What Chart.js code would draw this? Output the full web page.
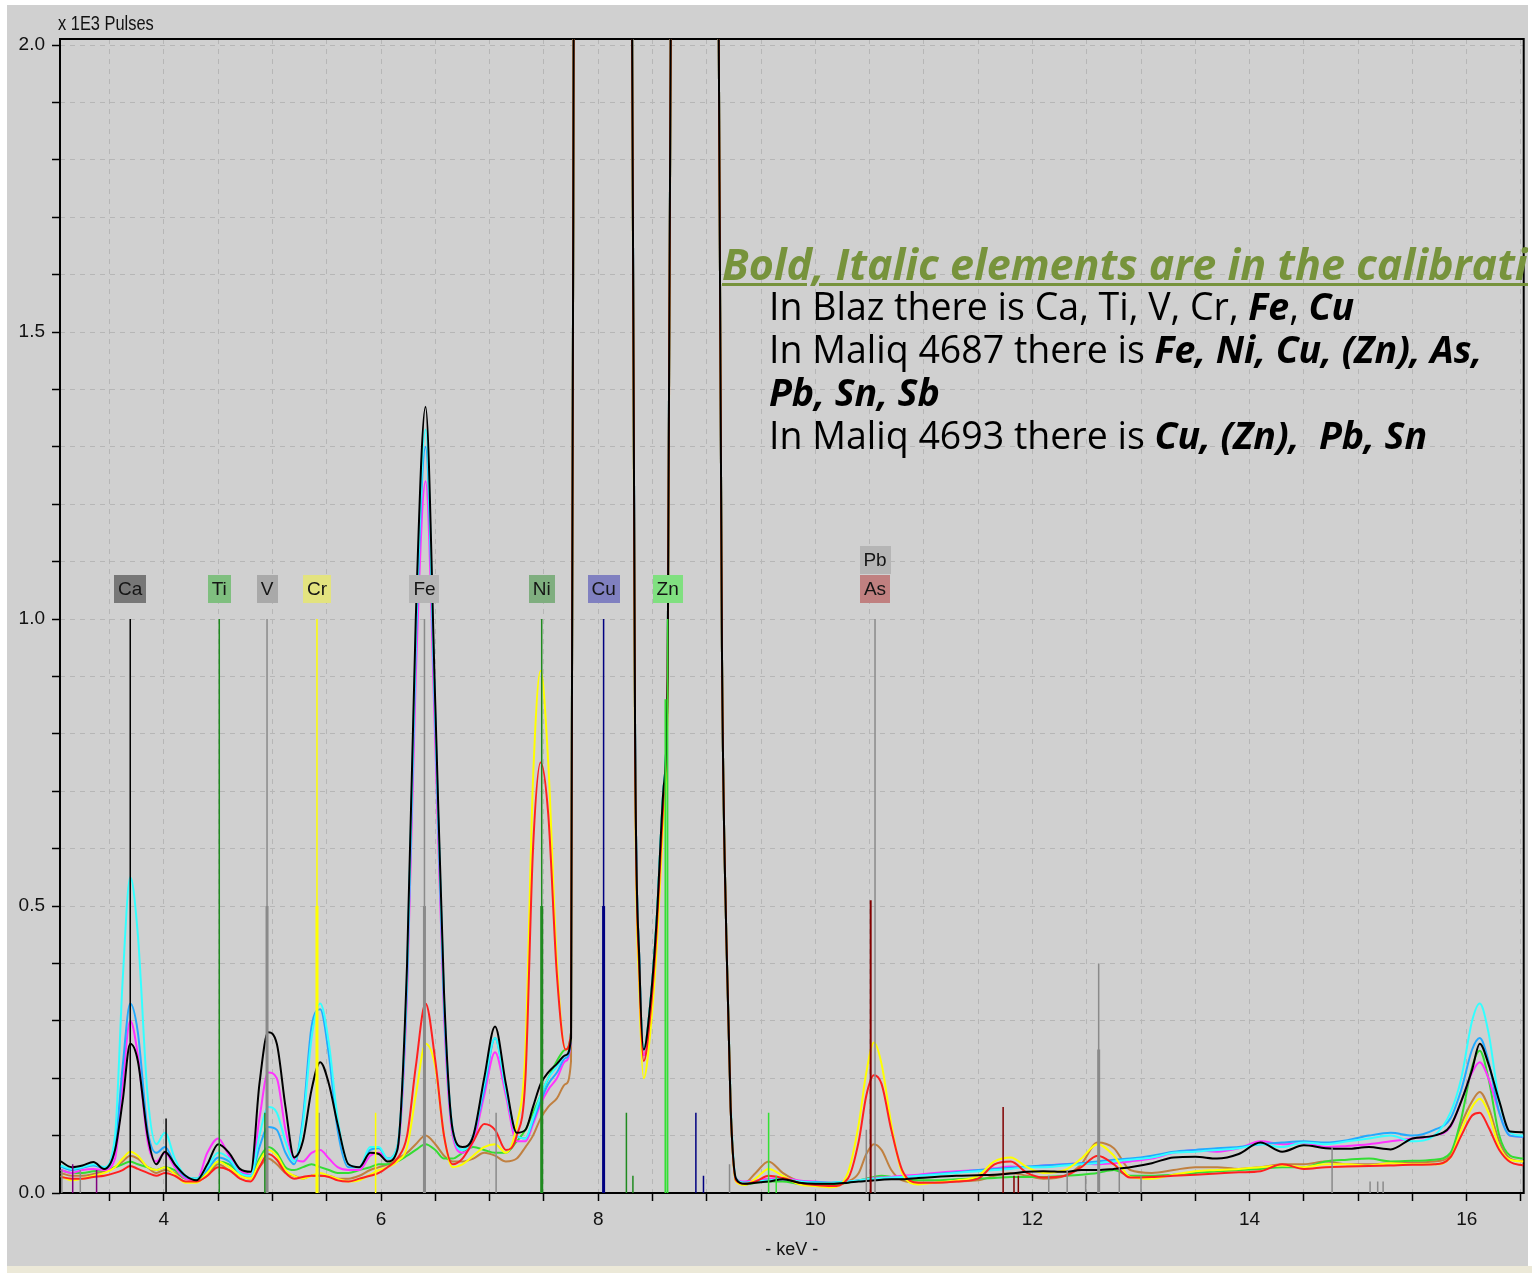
<!doctype html>
<html lang="en">
<head>
    <meta charset="utf-8">
    <title>XRF spectra - keV</title>
    <script src="https://cdn.jsdelivr.net/npm/chart.js"></script>
    <style>
        html, body { margin: 0; padding: 0; background: #ffffff; }
        body { width: 1532px; height: 1273px; position: relative; overflow: hidden; }
        .panel { position: absolute; left: 7px; top: 5px; width: 1521px; height: 1261px; background: #d0d0d0; overflow: hidden; }
        .strip { position: absolute; left: 7px; top: 1266px; width: 1525px; height: 7px; background: #ece9d8; }
        #spectrum { position: absolute; left: 0; top: 0; }
        .ytitle { position: absolute; left: 51px; top: 8px; font: 20px/20px 'Liberation Sans', sans-serif; color: #111; white-space: nowrap;
            transform: scaleX(0.82); transform-origin: left top; }
        .note-title { position: absolute; left: 715px; top: 237px; font: italic 700 43px/43px 'Open Sans', sans-serif; color: #77933c;
            text-decoration: underline; text-decoration-thickness: 3px; text-underline-offset: 3px; white-space: nowrap; }
        .note-body { position: absolute; left: 762px; top: 279px; font: 400 37.5px/43px 'Open Sans', sans-serif; color: #000; white-space: pre; }
        .note-body b { font-weight: 700; }
    </style>
</head>
<body>
    <div class="panel">
        <canvas id="spectrum" width="1521" height="1261"></canvas>
        <div class="ytitle">x 1E3 Pulses</div>
        <div class="note-title">Bold, Italic elements are in the calibration</div>
        <div class="note-body"><div>In Blaz there is Ca, Ti, V, Cr, <b><i>Fe</i></b>, <b><i>Cu</i></b></div><div>In Maliq 4687 there is <b><i>Fe, Ni, Cu, (Zn), As,</i></b></div><div><b><i>Pb, Sn, Sb</i></b></div><div>In Maliq 4693 there is <b><i>Cu, (Zn),  Pb, Sn</i></b></div></div>
    </div>
    <div class="strip"></div>

    <script>
        // energy axis shared by all spectra (keV)
        const energyKeV = [
            3.05, 3.15, 3.25, 3.35, 3.45, 3.55, 3.62, 3.69, 3.76, 3.85,
            3.93, 4.01, 4.10, 4.20, 4.30, 4.40, 4.50, 4.60, 4.70, 4.80,
            4.88, 4.96, 5.04, 5.12, 5.20, 5.28, 5.36, 5.44, 5.52, 5.60,
            5.70, 5.80, 5.90, 5.98, 6.06, 6.15, 6.24, 6.32, 6.41, 6.50,
            6.58, 6.66, 6.75, 6.85, 6.95, 7.05, 7.15, 7.25, 7.33, 7.40,
            7.47, 7.54, 7.62, 7.70, 7.75, 7.78, 8.04, 8.30, 8.34, 8.38,
            8.42, 8.48, 8.54, 8.60, 8.64, 8.68, 8.90, 9.10, 9.14, 9.18,
            9.22, 9.27, 9.35, 9.45, 9.57, 9.70, 9.85, 10.00, 10.15, 10.30,
            10.40, 10.47, 10.54, 10.61, 10.70, 10.80, 10.95, 11.10, 11.30, 11.50,
            11.65, 11.80, 11.95, 12.10, 12.30, 12.45, 12.60, 12.75, 12.90, 13.10,
            13.30, 13.50, 13.70, 13.90, 14.10, 14.30, 14.50, 14.70, 14.90, 15.10,
            15.30, 15.50, 15.70, 15.85, 15.95, 16.05, 16.12, 16.20, 16.30, 16.40,
            16.52
        ];

        // counts, x 1E3 pulses (Cu peaks run far off the top)
        const blackSpectrum = [
            0.055, 0.045, 0.048, 0.054, 0.042, 0.075, 0.16, 0.26, 0.23, 0.1,
            0.05, 0.072, 0.05, 0.03, 0.022, 0.05, 0.085, 0.07, 0.042, 0.037,
            0.19, 0.28, 0.26, 0.15, 0.062, 0.09, 0.18, 0.228, 0.19, 0.12,
            0.05, 0.045, 0.07, 0.068, 0.055, 0.075, 0.4, 1.0, 1.37, 0.85,
            0.35, 0.11, 0.08, 0.1, 0.2, 0.29, 0.19, 0.105, 0.11, 0.15,
            0.19, 0.21, 0.225, 0.24, 0.27, 2.6, 25, 2.6, 0.8, 0.4,
            0.25, 0.33, 0.48, 0.7, 0.9, 2.6, 14, 2.4, 0.95, 0.45,
            0.15, 0.025, 0.016, 0.018, 0.02, 0.024, 0.018, 0.016, 0.016, 0.018,
            0.02, 0.021, 0.022, 0.023, 0.024, 0.024, 0.026, 0.028, 0.03, 0.031,
            0.032, 0.034, 0.037, 0.038, 0.037, 0.04, 0.04, 0.042, 0.045, 0.052,
            0.062, 0.063, 0.06, 0.068, 0.088, 0.072, 0.083, 0.078, 0.077, 0.08,
            0.076, 0.095, 0.1, 0.117, 0.16, 0.215, 0.26, 0.225, 0.16, 0.107,
            0.106
        ];
        const cyanSpectrum = [
            0.048, 0.042, 0.045, 0.05, 0.045, 0.1, 0.37, 0.55, 0.45, 0.17,
            0.085, 0.105, 0.06, 0.03, 0.025, 0.045, 0.07, 0.06, 0.035, 0.03,
            0.1, 0.15, 0.14, 0.09, 0.055, 0.12, 0.27, 0.33, 0.26, 0.13,
            0.05, 0.045, 0.08, 0.08, 0.06, 0.08, 0.38, 0.97, 1.33, 0.83,
            0.34, 0.11, 0.075, 0.1, 0.19, 0.27, 0.18, 0.1, 0.095, 0.13,
            0.17, 0.2, 0.22, 0.24, 0.28, 2.6, 25, 2.6, 0.8, 0.4,
            0.25, 0.33, 0.48, 0.7, 0.9, 2.6, 14, 2.4, 0.95, 0.45,
            0.16, 0.025, 0.018, 0.02, 0.022, 0.025, 0.02, 0.018, 0.018, 0.02,
            0.022, 0.024, 0.025, 0.026, 0.027, 0.028, 0.03, 0.032, 0.035, 0.038,
            0.04, 0.042, 0.045, 0.045, 0.048, 0.05, 0.052, 0.055, 0.058, 0.062,
            0.07, 0.072, 0.075, 0.078, 0.085, 0.08, 0.088, 0.085, 0.09, 0.095,
            0.1, 0.09, 0.1, 0.14, 0.2, 0.3, 0.33, 0.28, 0.16, 0.105,
            0.1
        ];
        const skyBlueSpectrum = [
            0.046, 0.04, 0.044, 0.048, 0.043, 0.08, 0.22, 0.33, 0.28, 0.11,
            0.07, 0.08, 0.05, 0.028, 0.025, 0.04, 0.062, 0.055, 0.035, 0.03,
            0.08, 0.115, 0.11, 0.07, 0.05, 0.13, 0.29, 0.32, 0.24, 0.11,
            0.045, 0.045, 0.075, 0.078, 0.06, 0.08, 0.37, 0.95, 1.3, 0.82,
            0.33, 0.11, 0.075, 0.1, 0.18, 0.27, 0.18, 0.1, 0.095, 0.125,
            0.16, 0.19, 0.21, 0.235, 0.27, 2.6, 25, 2.6, 0.8, 0.4,
            0.25, 0.33, 0.48, 0.7, 0.9, 2.6, 14, 2.4, 0.95, 0.45,
            0.15, 0.024, 0.018, 0.02, 0.022, 0.024, 0.02, 0.019, 0.018, 0.02,
            0.022, 0.023, 0.024, 0.025, 0.026, 0.027, 0.03, 0.033, 0.036, 0.04,
            0.042, 0.044, 0.046, 0.048, 0.05, 0.052, 0.055, 0.058, 0.06, 0.065,
            0.072, 0.075, 0.078, 0.08, 0.085, 0.088, 0.09, 0.088, 0.092, 0.1,
            0.105, 0.1, 0.11, 0.13, 0.18, 0.25, 0.27, 0.23, 0.14, 0.1,
            0.098
        ];
        const magentaSpectrum = [
            0.04, 0.035, 0.04, 0.042, 0.04, 0.06, 0.19, 0.3, 0.24, 0.09,
            0.055, 0.07, 0.045, 0.025, 0.022, 0.07, 0.095, 0.065, 0.04, 0.032,
            0.13, 0.21, 0.2, 0.11, 0.06, 0.055, 0.07, 0.075, 0.06, 0.045,
            0.04, 0.04, 0.065, 0.07, 0.06, 0.075, 0.35, 0.9, 1.24, 0.78,
            0.31, 0.1, 0.07, 0.09, 0.17, 0.245, 0.17, 0.09, 0.09, 0.12,
            0.155, 0.18, 0.2, 0.23, 0.27, 2.6, 25, 2.6, 0.8, 0.4,
            0.24, 0.32, 0.47, 0.68, 0.88, 2.6, 14, 2.4, 0.95, 0.45,
            0.15, 0.025, 0.02, 0.022, 0.025, 0.026, 0.022, 0.02, 0.018, 0.02,
            0.022, 0.024, 0.026, 0.027, 0.028, 0.03, 0.032, 0.035, 0.038, 0.04,
            0.043, 0.046, 0.045, 0.048, 0.05, 0.052, 0.05, 0.052, 0.055, 0.06,
            0.07, 0.075, 0.072, 0.078, 0.09, 0.085, 0.087, 0.08, 0.082, 0.085,
            0.09, 0.095, 0.1, 0.115, 0.16, 0.21, 0.228, 0.2, 0.14, 0.1,
            0.098
        ];
        const yellowSpectrum = [
            0.03, 0.022, 0.025, 0.03, 0.035, 0.045, 0.06, 0.072, 0.065, 0.045,
            0.04, 0.045, 0.033, 0.018, 0.018, 0.035, 0.055, 0.045, 0.03, 0.025,
            0.055, 0.075, 0.065, 0.04, 0.03, 0.025, 0.03, 0.035, 0.03, 0.025,
            0.02, 0.022, 0.032, 0.04, 0.045, 0.055, 0.08, 0.17, 0.26, 0.22,
            0.1, 0.045, 0.05, 0.065, 0.08, 0.085, 0.07, 0.12, 0.25, 0.72,
            0.91, 0.75, 0.4, 0.25, 0.27, 2.6, 25, 2.6, 0.75, 0.35,
            0.2, 0.28, 0.43, 0.65, 0.87, 2.6, 14, 2.4, 0.95, 0.45,
            0.15, 0.02, 0.014, 0.025, 0.042, 0.03, 0.015, 0.012, 0.01, 0.035,
            0.12, 0.21, 0.262, 0.225, 0.12, 0.035, 0.015, 0.018, 0.022, 0.03,
            0.055, 0.062, 0.045, 0.035, 0.04, 0.06, 0.085, 0.065, 0.028, 0.025,
            0.032, 0.038, 0.04, 0.042, 0.045, 0.048, 0.045, 0.05, 0.05, 0.048,
            0.052, 0.05, 0.05, 0.062, 0.11, 0.15, 0.164, 0.14, 0.08, 0.058,
            0.055
        ];
        const redSpectrum = [
            0.028, 0.025, 0.025, 0.028, 0.03, 0.035, 0.04, 0.047, 0.042, 0.035,
            0.03, 0.035, 0.03, 0.02, 0.02, 0.03, 0.045, 0.04, 0.025, 0.02,
            0.045, 0.068, 0.058, 0.035, 0.025, 0.028, 0.03, 0.03, 0.028, 0.022,
            0.02, 0.025, 0.03, 0.035, 0.045, 0.06, 0.1, 0.22, 0.33, 0.23,
            0.1, 0.05, 0.06, 0.09, 0.12, 0.11, 0.075, 0.1, 0.2, 0.6,
            0.75, 0.66, 0.38, 0.25, 0.28, 2.6, 25, 2.6, 0.78, 0.38,
            0.23, 0.31, 0.46, 0.68, 0.9, 2.6, 14, 2.4, 0.95, 0.45,
            0.15, 0.022, 0.016, 0.02, 0.03, 0.026, 0.018, 0.014, 0.012, 0.025,
            0.09, 0.17, 0.205, 0.19, 0.11, 0.04, 0.018, 0.018, 0.02, 0.025,
            0.05, 0.055, 0.035, 0.027, 0.03, 0.045, 0.065, 0.05, 0.027, 0.028,
            0.03, 0.032, 0.034, 0.036, 0.038, 0.05, 0.042, 0.045, 0.046, 0.047,
            0.048, 0.049, 0.05, 0.062, 0.1, 0.135, 0.14, 0.115, 0.075, 0.054,
            0.048
        ];
        const greenSpectrum = [
            0.04, 0.035, 0.035, 0.038, 0.04, 0.045, 0.05, 0.055, 0.05, 0.045,
            0.04, 0.045, 0.04, 0.025, 0.025, 0.035, 0.055, 0.05, 0.035, 0.03,
            0.06, 0.08, 0.07, 0.045, 0.04, 0.045, 0.05, 0.045, 0.04, 0.035,
            0.035, 0.04, 0.045, 0.05, 0.05, 0.055, 0.065, 0.075, 0.085, 0.075,
            0.06, 0.06, 0.07, 0.08, 0.075, 0.07, 0.07, 0.09, 0.11, 0.14,
            0.17, 0.2, 0.23, 0.25, 0.28, 2.6, 25, 2.6, 0.8, 0.4,
            0.25, 0.33, 0.48, 0.7, 0.9, 2.6, 14, 2.4, 0.95, 0.45,
            0.15, 0.022, 0.015, 0.018, 0.02, 0.02, 0.016, 0.015, 0.015, 0.018,
            0.022, 0.025, 0.028, 0.03, 0.028, 0.025, 0.022, 0.022, 0.024, 0.025,
            0.026, 0.028, 0.028, 0.028, 0.03, 0.032, 0.035, 0.04, 0.03, 0.03,
            0.032, 0.035, 0.038, 0.04, 0.042, 0.045, 0.045, 0.055, 0.058, 0.06,
            0.055, 0.056, 0.058, 0.07, 0.13, 0.22, 0.248, 0.2, 0.1, 0.065,
            0.06
        ];
        const brownSpectrum = [
            0.035, 0.03, 0.03, 0.033, 0.038, 0.045, 0.055, 0.065, 0.06, 0.045,
            0.035, 0.04, 0.035, 0.025, 0.022, 0.03, 0.05, 0.04, 0.03, 0.025,
            0.045, 0.06, 0.05, 0.035, 0.03, 0.025, 0.03, 0.03, 0.03, 0.025,
            0.025, 0.03, 0.04, 0.045, 0.05, 0.06, 0.07, 0.085, 0.1, 0.085,
            0.065, 0.055, 0.055, 0.06, 0.07, 0.065, 0.055, 0.06, 0.08, 0.1,
            0.13, 0.15, 0.165, 0.19, 0.23, 2.6, 25, 2.6, 0.8, 0.4,
            0.24, 0.32, 0.47, 0.68, 0.88, 2.6, 14, 2.4, 0.95, 0.45,
            0.15, 0.022, 0.018, 0.035, 0.055, 0.035, 0.02, 0.015, 0.014, 0.02,
            0.035, 0.068, 0.085, 0.075, 0.04, 0.022, 0.018, 0.018, 0.02, 0.022,
            0.03, 0.035, 0.03, 0.025, 0.03, 0.05, 0.088, 0.078, 0.04, 0.035,
            0.04, 0.045, 0.045, 0.042, 0.045, 0.05, 0.05, 0.055, 0.05, 0.05,
            0.052, 0.053, 0.055, 0.065, 0.12, 0.16, 0.176, 0.15, 0.09, 0.06,
            0.055
        ];

        // element line markers: energy (keV) and stick height
        const markerKeV = [
            3.06, 3.16, 3.23, 3.38, 3.69, 4.02, 4.51, 4.93, 4.95, 4.95,
            5.41, 5.41, 5.43, 5.95, 6.40, 6.40, 7.06, 7.48, 7.48, 8.05,
            8.05, 8.26, 8.32, 8.64, 8.62, 8.90, 8.97, 9.21, 9.57, 9.64,
            10.47, 10.51, 10.55, 11.73, 11.83, 11.87, 12.15, 12.32, 12.49, 12.61,
            12.61, 12.80, 13.00, 14.76, 15.11, 15.18, 15.23
        ];
        const markerTop = [
            0.04, 0.05, 0.04, 0.04, 1.0, 0.13, 1.0, 0.14, 1.0, 0.5,
            1.0, 0.5, 0.14, 0.14, 1.0, 0.5, 0.14, 1.0, 0.5, 1.0,
            0.5, 0.14, 0.03, 1.0, 0.86, 0.14, 0.03, 0.05, 0.14, 0.03,
            0.11, 0.51, 1.0, 0.15, 0.03, 0.03, 0.03, 0.04, 0.03, 0.4,
            0.25, 0.045, 0.03, 0.08, 0.02, 0.02, 0.02
        ];
        // marker styles (kept apart from the values)
        const markerColor = [
            '#8a8a8a', '#800080', '#8a8a8a', '#800080', '#000000', '#000000', '#1f8a1f', '#1f8a1f', '#8a8a8a', '#8a8a8a',
            '#ffff00', '#ffff00', '#8a8a8a', '#ffff00', '#8a8a8a', '#8a8a8a', '#8a8a8a', '#1f8a1f', '#1f8a1f', '#000080',
            '#000080', '#1f8a1f', '#1f8a1f', '#33e033', '#33e033', '#000080', '#000080', '#8a8a8a', '#33e033', '#33e033',
            '#8a8a8a', '#800000', '#8a8a8a', '#800000', '#800000', '#800000', '#8a8a8a', '#8a8a8a', '#8a8a8a', '#8a8a8a',
            '#8a8a8a', '#8a8a8a', '#8a8a8a', '#8a8a8a', '#8a8a8a', '#8a8a8a', '#8a8a8a'
        ];
        const markerWidth = [
            1.5, 1.5, 1.5, 1.5, 1.5, 1.5, 1.5, 1.5, 1.5, 3,
            1.5, 3, 1.5, 1.5, 1.5, 3, 1.5, 1.5, 3, 1.5,
            3, 1.5, 1.5, 1.5, 2, 1.5, 1.5, 1.5, 1.5, 1.5,
            1.5, 2, 1.5, 1.5, 1.5, 1.5, 1.5, 1.5, 1.5, 1.5,
            3, 1.5, 1.5, 1.5, 1.5, 1.5, 1.5
        ];

        // element tags above the marker lines
        const elementNames = ['Ca', 'Ti', 'V', 'Cr', 'Fe', 'Ni', 'Cu', 'Zn', 'As', 'Pb'];
        const elementKeV = [3.69, 4.51, 4.95, 5.41, 6.40, 7.48, 8.05, 8.64, 10.55, 10.55];
        const tagColors = ['#777777', '#7fbf7f', '#a9a9a9', '#e3e37f', '#b5b5b5', '#7fae7f', '#8080c0', '#80e080', '#c08080', '#b5b5b5'];
        const tagStack = [0, 0, 0, 0, 0, 0, 0, 0, 0, 1];

        const spectra = [
            { data: blackSpectrum, color: '#000000' },
            { data: redSpectrum, color: '#ff2020' },
            { data: yellowSpectrum, color: '#ffff00' },
            { data: cyanSpectrum, color: '#33ffff' },
            { data: skyBlueSpectrum, color: '#22aaff' },
            { data: magentaSpectrum, color: '#ff33ff' },
            { data: greenSpectrum, color: '#33dd33' },
            { data: brownSpectrum, color: '#c08040' }
        ];

        const tickFont = { family: "'Liberation Sans', sans-serif", size: 19 };
        const onStep = (v, step) => Math.abs(v / step - Math.round(v / step)) < 1e-6;

        const framePlugin = {
            id: 'frame',
            beforeDatasetsDraw(chart) {
                const { ctx, chartArea: a } = chart;
                ctx.save();
                ctx.strokeStyle = '#000';
                ctx.lineWidth = 2;
                ctx.strokeRect(a.left, a.top, a.right - a.left, a.bottom - a.top);
                ctx.restore();
            }
        };

        const tagPlugin = {
            id: 'elementTags',
            afterDatasetsDraw(chart) {
                const { ctx, scales: { x, y } } = chart;
                ctx.save();
                ctx.font = "19px 'Liberation Sans', sans-serif";
                ctx.textAlign = 'center';
                ctx.textBaseline = 'middle';
                elementNames.forEach((name, i) => {
                    const cx = x.getPixelForValue(elementKeV[i]);
                    const cy = y.getPixelForValue(1.052) - tagStack[i] * 29;
                    const w = Math.round(ctx.measureText(name).width + 8);
                    ctx.fillStyle = tagColors[i];
                    ctx.fillRect(Math.round(cx - w / 2), Math.round(cy - 14), w, 28);
                    ctx.fillStyle = '#151515';
                    ctx.fillText(name, cx, cy + 1);
                });
                ctx.restore();
            }
        };

        const datasets = spectra.map(s => ({
            data: energyKeV.map((e, i) => ({ x: e, y: s.data[i] })),
            borderColor: s.color,
            borderWidth: 2,
            pointRadius: 0,
            fill: false,
            cubicInterpolationMode: 'monotone'
        }));

        markerKeV.forEach((e, i) => {
            datasets.push({
                data: [{ x: e, y: 0 }, { x: e, y: markerTop[i] }],
                borderColor: markerColor[i],
                borderWidth: markerWidth[i],
                pointRadius: 0,
                fill: false,
                order: -1
            });
        });

        new Chart(document.getElementById('spectrum'), {
            type: 'line',
            data: { datasets: datasets },
            plugins: [framePlugin, tagPlugin],
            options: {
                responsive: false,
                animation: false,
                devicePixelRatio: 1,
                layout: { padding: { left: 0, top: 34, right: 3, bottom: 0 } },
                plugins: { legend: { display: false }, tooltip: { enabled: false } },
                scales: {
                    x: {
                        type: 'linear',
                        min: 3.043,
                        max: 16.525,
                        afterFit: (scale) => { scale.height = 73; },
                        afterBuildTicks: (scale) => {
                            scale.ticks = scale.ticks.filter(t => onStep(t.value, 0.5) && t.value <= 16.525 && t.value >= 3.043);
                        },
                        ticks: {
                            stepSize: 0.5,
                            includeBounds: false,
                            autoSkip: false,
                            maxRotation: 0,
                            padding: 7,
                            color: '#111',
                            font: tickFont,
                            callback: (v) => onStep(v, 2) ? String(Math.round(v)) : ''
                        },
                        grid: { color: '#b6b6b6', lineWidth: 1, tickColor: '#000', tickLength: 8, tickWidth: 1.5, tickBorderDash: [] },
                        border: { display: false, dash: [5, 5] },
                        title: { display: true, text: '- keV -', color: '#111', font: { family: tickFont.family, size: 18 }, padding: { top: 0, bottom: 5 } }
                    },
                    y: {
                        min: 0,
                        max: 2.0105,
                        afterFit: (scale) => { scale.width = 53; },
                        afterBuildTicks: (scale) => {
                            scale.ticks = scale.ticks.filter(t => onStep(t.value, 0.1) && t.value <= 2.0105 && t.value >= 0);
                        },
                        ticks: {
                            stepSize: 0.1,
                            includeBounds: false,
                            autoSkip: false,
                            padding: 7,
                            color: '#111',
                            font: tickFont,
                            callback: (v) => onStep(v, 0.5) ? v.toFixed(1) : ''
                        },
                        grid: { color: '#b6b6b6', lineWidth: 1, tickColor: '#000', tickLength: 8, tickWidth: 1.5, tickBorderDash: [] },
                        border: { display: false, dash: [5, 5] }
                    }
                }
            }
        });
    </script>
</body>
</html>
